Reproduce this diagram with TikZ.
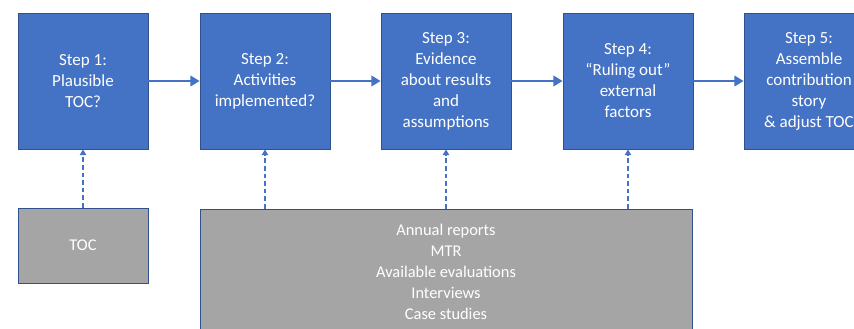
\documentclass[tikz,border=0pt]{standalone}
\usepackage{fontspec}
\setmainfont{Carlito}
\usetikzlibrary{arrows.meta}
\definecolor{stepblue}{HTML}{4472C4}
\definecolor{edgeblue}{HTML}{2F528F}
\definecolor{srcgray}{HTML}{A5A5A5}

\begin{document}
\begin{tikzpicture}[x=0.03cm, y=-0.03cm,
    stepbox/.style={draw=edgeblue, fill=stepblue, line width=0.6pt, text=white,
      minimum width=3.9cm, minimum height=4.08cm, align=center, inner sep=1pt,
      font=\fontsize{14.5}{17.9}\selectfont},
    srcbox/.style={draw=edgeblue, fill=srcgray, line width=0.6pt, text=white,
      align=center, inner sep=1pt, font=\fontsize{14}{17.9}\selectfont},
    flow/.style={-{Triangle[length=8pt,width=9pt]}, stepblue, line width=2pt},
    feed/.style={-{Triangle[length=5pt,width=5.5pt]}, stepblue, line width=1.4pt,
      dash pattern=on 4pt off 2.5pt}]
  \clip[use as bounding box] (0,0) rectangle (854,328);
  % steps
  \node[stepbox] (s1) at (83,81) {Step 1:\\Plausible\\TOC?};
  \node[stepbox] (s2) at (265,81) {Step 2:\\Activities\\implemented?};
  \node[stepbox] (s3) at (446,81) {Step 3:\\Evidence\\about results\\and\\assumptions};
  \node[stepbox] (s4) at (628,81) {Step 4:\\“Ruling out”\\external\\factors};
  \node[stepbox] (s5) at (809,81) {Step 5:\\Assemble\\contribution\\story\\\& adjust TOC};
  \foreach \a/\b in {s1/s2, s2/s3, s3/s4, s4/s5}
    \draw[flow] (\a) -- (\b);
  % sources
  \node[srcbox, minimum width=3.9cm, minimum height=2.25cm] (toc) at (83,245.5) {TOC};
  \node[srcbox, minimum width=14.76cm, minimum height=3.78cm] (docs) at (446,272)
    {Annual reports\\MTR\\Available evaluations\\Interviews\\Case studies};
  \draw[feed] (toc) -- (s1);
  \foreach \s in {s2, s3, s4}
    \draw[feed] (docs.north -| \s.south) -- (\s);
\end{tikzpicture}
\end{document}
